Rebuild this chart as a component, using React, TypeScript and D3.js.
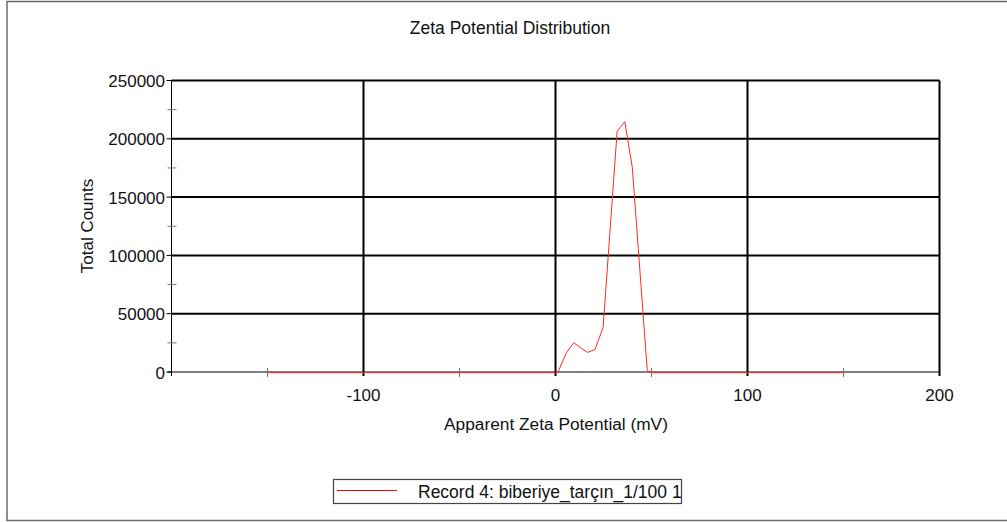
import React from "react";
import * as d3 from "d3";

// Apparent zeta potential (mV) and total counts for the recorded distribution
const zeta: number[] = [-150, 0, 1.2, 5.6, 9.5, 16.5, 20.5, 24.8, 32.1, 36.1, 40.0, 47.8, 50.4, 150];
const counts: number[] = [0, 0, 0, 16900, 25700, 17400, 19700, 38800, 207000, 215300, 176100, 1700, 0, 0];

const xMajorTicks: number[] = [-100, 0, 100, 200];
const xMinorTicks: number[] = [-150, -50, 50, 150];
const yMajorTicks: number[] = [0, 50000, 100000, 150000, 200000, 250000];
const yMinorTicks: number[] = [25000, 75000, 125000, 175000, 225000];

const titleText = "Zeta Potential Distribution";
const xLabel = "Apparent Zeta Potential (mV)";
const yLabel = "Total Counts";
const legendText = "Record 4: biberiye_tarçın_1/100 1";

const W = 1007;
const H = 522;
const font = "'Liberation Sans', Arial, sans-serif";

export default function App() {
  const x = d3.scaleLinear().domain([-200, 200]).range([171.5, 939.5]);
  const y = d3.scaleLinear().domain([0, 250000]).range([372, 80.5]);

  const points: [number, number][] = zeta.map((v, i) => [v, counts[i]]);
  const line = d3
    .line<[number, number]>()
    .x((d) => x(d[0]))
    .y((d) => y(d[1]) + 0.7);

  const x0 = x(-200);
  const x1 = x(200);
  const yBase = y(0);
  const yTop = y(250000);

  return (
    <svg
      width={W}
      height={H}
      style={{ position: "absolute", left: 0, top: 0, background: "#fff" }}
      fontFamily={font}
    >
      {/* outer frame */}
      <rect x={7} y={1.5} width={1010} height={519} fill="#fff" stroke="#6b6b6b" strokeWidth={1.5} />

      <text x={510} y={34} textAnchor="middle" fontSize={17.5} fill="#111">
        {titleText}
      </text>

      {/* grid */}
      {xMajorTicks.map((t) => (
        <line key={"gx" + t} x1={x(t)} x2={x(t)} y1={yTop} y2={yBase + 4} stroke="#000" strokeWidth={2} />
      ))}
      {yMajorTicks
        .filter((t) => t > 0)
        .map((t) => (
          <line key={"gy" + t} x1={x0} x2={x1} y1={y(t)} y2={y(t)} stroke="#000" strokeWidth={2} />
        ))}

      {/* axes */}
      <line x1={x0} x2={x0} y1={yTop - 0.5} y2={yBase + 4} stroke="#000" strokeWidth={1} />
      <line x1={x0 - 4} x2={x1} y1={yBase} y2={yBase} stroke="#000" strokeWidth={1.2} />

      {/* y ticks */}
      {yMajorTicks.map((t) => (
        <g key={"yt" + t}>
          <line x1={x0 - 5} x2={x0} y1={y(t)} y2={y(t)} stroke="#000" strokeWidth={1} />
          <text x={165} y={y(t) + 6.5} textAnchor="end" fontSize={17} fill="#111">
            {t}
          </text>
        </g>
      ))}
      {yMinorTicks.map((t) => (
        <line key={"ym" + t} x1={x0 - 4} x2={x0 + 5} y1={y(t)} y2={y(t)} stroke="#777" strokeWidth={1} />
      ))}

      {/* x ticks */}
      {xMajorTicks.map((t) => (
        <text key={"xt" + t} x={x(t)} y={401} textAnchor="middle" fontSize={17} fill="#111">
          {t}
        </text>
      ))}
      {xMinorTicks.map((t) => (
        <line key={"xm" + t} x1={x(t)} x2={x(t)} y1={yBase - 4} y2={yBase + 5} stroke="#777" strokeWidth={1} />
      ))}

      {/* axis titles */}
      <text x={556} y={430} textAnchor="middle" fontSize={17.3} fill="#111">
        {xLabel}
      </text>
      <text
        transform={`translate(93,${226}) rotate(-90)`}
        textAnchor="middle"
        fontSize={17}
        fill="#111"
      >
        {yLabel}
      </text>

      {/* data */}
      <path d={line(points) ?? ""} fill="none" stroke="#ff2a2a" strokeWidth={1} />

      {/* legend */}
      <rect x={333.5} y={479.5} width={348} height={24} fill="#fff" stroke="#444" strokeWidth={1.2} />
      <line x1={337} x2={397} y1={490.5} y2={490.5} stroke="#ff0000" strokeWidth={1} />
      <text x={418} y={498} fontSize={17.5} fill="#111">
        {legendText}
      </text>
    </svg>
  );
}
